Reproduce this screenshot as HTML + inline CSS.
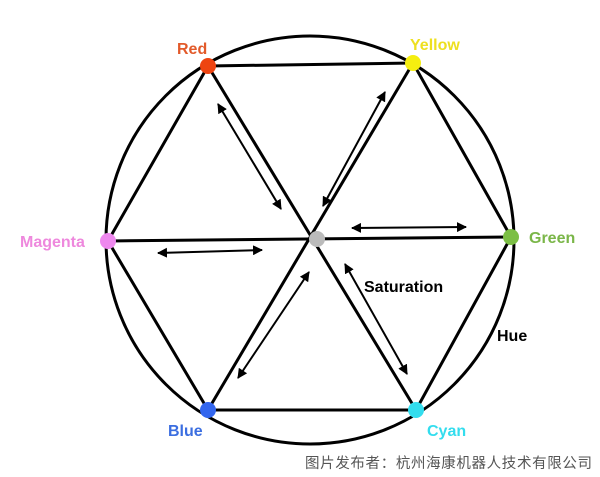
<!DOCTYPE html>
<html><head><meta charset="utf-8"><style>
html,body{margin:0;padding:0;background:#fff;width:600px;height:477px;overflow:hidden}
svg{display:block}
.l{font-family:"Liberation Sans",sans-serif;font-weight:bold;font-size:16px}
</style></head><body>
<svg width="600" height="477" viewBox="0 0 600 477">
<defs>
<marker id="a" viewBox="0 0 10 10" refX="9" refY="5" markerWidth="5" markerHeight="5" orient="auto-start-reverse"><path d="M0,0L10,5L0,10z" fill="#000"/></marker>
</defs>
<g stroke="#000" stroke-width="3" fill="none">
<circle cx="310" cy="240" r="204"/>
<polygon points="208,66 413,63 511,237 416,410 208,410 108,241"/>
<line x1="208" y1="66" x2="416" y2="410"/>
<line x1="413" y1="63" x2="208" y2="410"/>
<line x1="108" y1="241" x2="511" y2="237"/>
</g>
<g stroke="#000" stroke-width="2" marker-start="url(#a)" marker-end="url(#a)">
<line x1="218" y1="104" x2="281" y2="209"/>
<line x1="385" y1="92" x2="323" y2="206"/>
<line x1="352" y1="228" x2="466" y2="227"/>
<line x1="158" y1="253" x2="262" y2="250"/>
<line x1="309" y1="272" x2="238" y2="378"/>
<line x1="345" y1="264" x2="407" y2="374"/>
</g>
<circle cx="208" cy="66" r="8" fill="#ee4411"/>
<circle cx="413" cy="63" r="8" fill="#f5ee10"/>
<circle cx="511" cy="237" r="8" fill="#7cbf45"/>
<circle cx="416" cy="410" r="8" fill="#33ddee"/>
<circle cx="208" cy="410" r="8" fill="#3366ee"/>
<circle cx="108" cy="241" r="8" fill="#ee88ee"/>
<circle cx="317" cy="239" r="8" fill="#bbbbbb"/>
<text class="l" x="177" y="54" fill="#e25a2a">Red</text>
<text class="l" x="410" y="50" fill="#eee020">Yellow</text>
<text class="l" x="20" y="247" fill="#ee88dd">Magenta</text>
<text class="l" x="529" y="243" fill="#7ab648">Green</text>
<text class="l" x="168" y="436" fill="#3b6ee0">Blue</text>
<text class="l" x="427" y="436" fill="#33ddee">Cyan</text>
<text class="l" x="364" y="292" fill="#000">Saturation</text>
<text class="l" x="497" y="341" fill="#000">Hue</text>
<text x="305" y="468" font-family="'Liberation Sans','Noto Sans CJK SC',sans-serif" font-size="14.5" fill="#555" textLength="287">图片发布者：杭州海康机器人技术有限公司</text>
</svg>
</body></html>
